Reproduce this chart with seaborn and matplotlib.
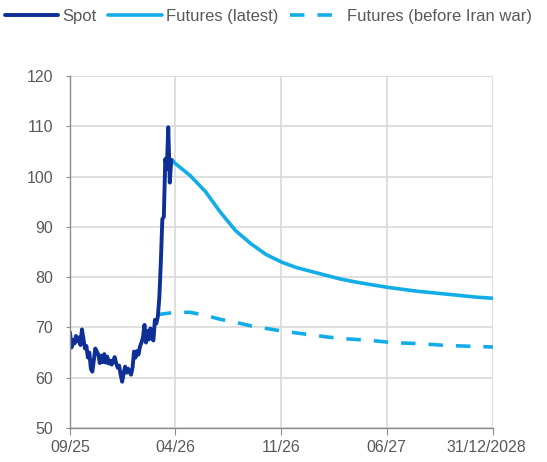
import pandas as pd
import matplotlib.pyplot as plt
import matplotlib.transforms as mtransforms
import seaborn as sns

# Spot price, one reading every 3 days from 01/09/2025
spot_values = [
    69.0, 66.0, 67.5, 66.8, 68.3, 67.2, 68.0, 66.5, 69.6, 67.8,
    65.8, 66.3, 64.0, 65.0, 61.8, 61.2, 63.5, 65.8, 65.2, 64.6,
    62.9, 64.4, 63.1, 64.7, 63.0, 64.2, 62.8, 63.4, 62.6, 63.3,
    64.1, 62.9, 62.0, 62.4, 60.6, 59.2, 60.8, 62.2, 61.0, 61.8,
    61.2, 60.6, 62.0, 65.2, 64.0, 65.3, 64.6, 66.2, 67.0, 68.0,
    70.5, 67.0, 69.3, 67.6, 69.8, 68.0, 67.4, 71.5, 70.8, 72.2,
    76.0, 83.0, 91.5, 92.0, 103.5, 101.5, 109.8, 98.8, 103.3,
]
spot_dates = pd.date_range("2025-09-01", periods=len(spot_values), freq="3D")

# Futures curve (latest): start point, then monthly contracts 04/26 .. 01/28
latest_start = ["2026-03-26"]
latest_values = [
    103.3, 102.6, 100.2, 97.0, 92.9, 89.2, 86.6, 84.5, 83.0, 81.9, 81.1,
    80.3, 79.6, 79.0, 78.5, 78.0, 77.6, 77.2, 76.9, 76.6, 76.3, 76.0, 75.8,
]
latest_dates = pd.to_datetime(latest_start).append(
    pd.date_range("2026-04-01", "2028-01-01", freq="MS"))

# Futures curve before Iran war
before_start = ["2026-02-23"]
before_values = [
    72.5, 72.6, 73.0, 73.0, 72.4, 71.6, 71.0, 70.3, 69.8, 69.3, 68.9, 68.5,
    68.1, 67.8, 67.6, 67.4, 67.1, 66.9, 66.8, 66.6, 66.4, 66.3, 66.2, 66.1,
]
before_dates = pd.to_datetime(before_start).append(
    pd.date_range("2026-03-01", "2028-01-01", freq="MS"))

tick_dates = ["2025-09-01", "2026-04-01", "2026-11-01", "2027-06-01", "2028-01-01"]
tick_labels = ["09/25", "04/26", "11/26", "06/27", "31/12/2028"]

sns.set_style("white")
plt.rcParams['font.family'] = ['Liberation Sans', 'DejaVu Sans']

spot_color = "#0d2f96"
fut_color = "#12ade6"
text_color = "#595959"
grid_color = "#d9d9d9"

fig = plt.figure(figsize=(5.47, 4.62), dpi=100)
ax = fig.add_axes([0.128, 0.0736, 0.773, 0.762])

sns.lineplot(x=before_dates, y=before_values, ax=ax, color=fut_color,
             linewidth=2.6, label="Futures (before Iran war)")
ax.lines[-1].set_dashes((4, 3.6))
ax.lines[-1].set_dash_capstyle("butt")
sns.lineplot(x=latest_dates, y=latest_values, ax=ax, color=fut_color,
             linewidth=2.6, label="Futures (latest)")
sns.lineplot(x=spot_dates, y=spot_values, ax=ax, color=spot_color,
             linewidth=2.8, label="Spot")

ax.set_xlim(pd.Timestamp("2025-09-01"), pd.Timestamp("2028-01-01"))
ax.set_ylim(50, 120)
ax.set_yticks(range(50, 121, 10))
ax.set_xticks(pd.to_datetime(tick_dates))
ax.set_xticklabels(tick_labels)
ax.set_xlabel("")
ax.set_ylabel("")

ax.grid(True, color=grid_color, linewidth=1.2)
ax.set_axisbelow(True)
for side in ["top", "right"]:
    ax.spines[side].set_visible(False)
for side in ["left", "bottom"]:
    ax.spines[side].set_color("#8c8c8c")
    ax.spines[side].set_linewidth(1.0)

ax.tick_params(axis="y", which="both", left=True, length=3, color="#8c8c8c",
               labelsize=11.5, labelcolor=text_color, pad=9)
ax.tick_params(axis="x", which="both", bottom=True, length=5, color="#8c8c8c",
               labelsize=11.5, labelcolor=text_color, pad=4)

# last date label sits a little left of its tick
last_lbl = ax.get_xticklabels()[-1]
last_lbl.set_transform(last_lbl.get_transform() +
                       mtransforms.ScaledTranslation(-7 / 100, 0, fig.dpi_scale_trans))

# legend on top in order Spot, Futures (latest), Futures (before Iran war)
handles, labels = ax.get_legend_handles_labels()
order = [labels.index("Spot"), labels.index("Futures (latest)"),
         labels.index("Futures (before Iran war)")]
ax.get_legend().remove()
fig.legend([handles[i] for i in order], [labels[i] for i in order],
           loc="center", bbox_to_anchor=(0.491, 0.965), ncol=3, frameon=False,
           fontsize=12, labelcolor=text_color, handlelength=3.2,
           handletextpad=0.25, columnspacing=0.7)

fig.savefig("out.png", dpi=100)
